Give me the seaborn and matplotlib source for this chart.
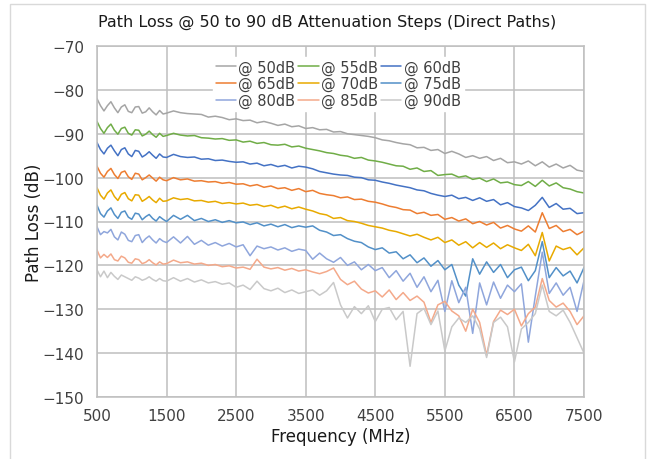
import pandas as pd
import seaborn as sns
import matplotlib.pyplot as plt

# frequenze: passo 50 MHz fino a 1500, poi 100 MHz
freq = list(range(500, 1500, 50)) + list(range(1500, 7600, 100))

loss_50 = [-82.0, -83.6, -84.8, -83.6, -82.7, -84.1, -85.2, -83.9, -83.4, -84.9,
           -85.2, -83.9, -83.8, -85.3, -85.0, -84.1, -85.0, -85.7, -84.7, -85.5,
           -85.3, -84.8, -85.2, -85.4, -85.5, -85.6, -86.2, -86.0, -86.3, -86.8,
           -86.6, -87.0, -86.9, -87.5, -87.2, -87.6, -88.1, -87.8, -88.4, -88.2,
           -88.8, -88.6, -89.1, -89.0, -89.6, -89.5, -90.0, -90.2, -90.4, -90.6,
           -90.9, -91.4, -91.6, -92.0, -92.3, -92.5, -93.2, -93.1, -93.8, -93.6,
           -94.5, -94.0, -94.6, -95.4, -95.0, -95.6, -95.2, -96.1, -95.6, -96.6,
           -96.4, -96.9, -96.2, -97.3, -96.4, -97.6, -96.9, -97.8, -97.2, -98.3,
           -98.6]
loss_55 = [-87.2, -88.8, -89.9, -88.6, -87.8, -89.2, -90.1, -88.8, -88.5, -89.9,
           -90.3, -89.1, -89.2, -90.5, -90.1, -89.4, -90.2, -90.8, -89.9, -90.6,
           -90.4, -89.9, -90.3, -90.5, -90.4, -90.9, -91.0, -91.2, -91.1, -91.5,
           -91.4, -91.9, -91.7, -92.2, -92.0, -92.5, -92.6, -92.4, -93.0, -92.8,
           -93.3, -93.6, -93.9, -94.3, -94.5, -94.9, -95.1, -95.6, -95.4, -96.0,
           -96.2, -96.5, -96.9, -97.3, -97.4, -98.1, -97.8, -98.6, -98.4, -99.5,
           -99.3, -99.2, -99.9, -99.6, -100.4, -100.1, -100.9, -100.3, -101.2, -101.0,
           -101.6, -101.8, -100.9, -102.0, -100.6, -101.9, -101.2, -102.3, -102.6, -103.2,
           -103.5]
loss_60 = [-92.0, -93.6, -94.6, -93.3, -92.6, -93.9, -95.0, -93.6, -93.2, -94.6,
           -95.2, -93.8, -94.0, -95.3, -94.8, -94.1, -94.9, -95.6, -94.6, -95.3,
           -95.4, -94.7, -95.2, -95.4, -95.3, -95.8, -95.7, -96.1, -96.0, -96.3,
           -96.5, -96.4, -96.9, -96.7, -97.3, -97.0, -97.5, -97.2, -97.8, -97.4,
           -97.6, -98.0, -98.6, -98.9, -99.2, -99.4, -99.5, -99.9, -100.0, -100.5,
           -100.6, -101.0, -101.3, -101.7, -102.0, -102.3, -102.8, -103.0, -103.6, -104.0,
           -104.3, -104.0, -104.8, -104.5, -105.2, -104.6, -105.4, -105.0, -106.2, -105.7,
           -106.6, -106.9, -107.5, -106.3, -104.5, -106.8, -105.9, -107.2, -107.0, -108.2,
           -108.0]
loss_65 = [-97.4, -99.0, -99.9, -98.6, -97.9, -99.3, -100.2, -98.8, -98.5, -99.8,
           -100.4, -99.0, -99.2, -100.5, -100.0, -99.4, -100.1, -100.8, -99.9, -100.5,
           -100.7, -100.0, -100.5, -100.3, -100.8, -100.7, -101.0, -100.9, -101.3, -101.1,
           -101.5, -101.4, -101.9, -101.6, -102.2, -101.9, -102.5, -102.3, -102.9, -102.5,
           -103.2, -102.9, -103.6, -103.9, -104.1, -104.6, -104.4, -105.0, -104.9, -105.4,
           -105.6, -106.0, -106.5, -106.8, -107.3, -107.4, -108.2, -107.9, -108.6, -108.4,
           -109.5, -109.1, -109.9, -109.4, -110.5, -110.0, -110.8, -110.2, -111.5, -110.9,
           -111.7, -112.2, -111.0, -112.4, -108.0, -111.6, -110.9, -112.3, -111.8, -113.0,
           -112.2]
loss_70 = [-102.3, -104.0, -104.9, -103.5, -102.8, -104.3, -105.2, -103.8, -103.4, -104.8,
           -105.3, -103.9, -104.0, -105.4, -104.9, -104.3, -105.1, -105.7, -104.7, -105.4,
           -105.3, -104.6, -105.0, -104.8, -105.3, -105.2, -105.6, -105.4, -105.9, -105.7,
           -106.0, -105.8, -106.3, -106.1, -106.6, -106.3, -106.9, -106.5, -107.1, -106.7,
           -107.2, -107.6, -108.2, -108.5, -109.3, -109.1, -109.8, -110.0, -110.4, -110.9,
           -111.2, -111.5, -112.0, -112.3, -112.8, -113.3, -112.9, -113.6, -114.2, -113.6,
           -114.8, -114.2, -115.4, -114.6, -116.0, -114.8, -115.9, -114.9, -116.2, -115.3,
           -116.0, -116.6, -115.2, -117.8, -112.5, -119.0, -115.6, -116.4, -115.9, -117.6,
           -116.0]
loss_75 = [-106.3, -108.2, -109.0, -107.6, -106.9, -108.4, -109.3, -107.9, -107.6, -109.0,
           -109.5, -108.1, -108.3, -109.6, -108.9, -108.4, -109.3, -109.9, -108.9, -109.5,
           -110.0, -108.6, -109.5, -108.6, -109.8, -109.3, -110.0, -109.6, -110.2, -109.8,
           -110.3, -110.1, -110.7, -110.3, -111.0, -110.6, -111.2, -110.7, -111.4, -111.0,
           -111.3, -111.0, -112.0, -112.4, -113.2, -113.0, -113.9, -114.5, -114.8, -115.8,
           -116.4, -116.0, -117.2, -116.9, -118.5, -117.6, -119.4, -118.3, -120.2, -118.9,
           -121.0, -119.8, -124.5, -127.0, -118.5, -122.0, -119.2, -121.6, -119.8, -122.8,
           -121.0, -120.4, -123.5, -121.2, -114.6, -122.8, -120.5, -122.4, -121.3, -124.0,
           -120.5]
loss_80 = [-111.2, -113.0, -112.3, -112.6, -111.8, -113.5, -114.2, -112.4, -112.9, -114.3,
           -114.6, -113.2, -113.0, -114.8, -113.9, -113.3, -114.2, -114.9, -113.9, -114.5,
           -114.8, -113.5, -114.9, -113.4, -115.2, -114.3, -115.4, -114.8, -115.6, -115.0,
           -115.8, -115.3, -117.8, -115.6, -116.2, -115.8, -116.5, -116.0, -116.8, -116.3,
           -116.6, -118.6, -117.2, -118.5, -119.3, -118.2, -120.0, -119.2, -121.0, -119.8,
           -121.2, -120.5, -122.8, -121.2, -123.6, -121.8, -125.0, -122.6, -126.0, -123.4,
           -130.5, -123.5, -128.5, -125.0, -135.5, -124.0, -129.0, -123.8, -127.5, -124.5,
           -126.0, -124.2, -137.5, -127.0, -117.0, -126.4, -124.0, -126.8, -125.0, -130.5,
           -123.5]
loss_85 = [-116.5, -118.3, -117.5, -118.2, -117.4, -118.7, -119.0, -117.9, -118.3, -119.3,
           -119.5, -118.5, -118.7, -119.6, -119.3, -118.7, -119.4, -119.9, -119.2, -119.7,
           -119.6, -118.8, -119.4, -119.2, -119.7, -119.5, -120.0, -119.8, -120.3, -120.1,
           -120.6, -120.4, -120.9, -118.6, -120.4, -120.8, -120.5, -121.1, -120.7, -121.3,
           -121.0, -121.5, -121.9, -121.4, -120.6, -123.2, -124.4, -123.6, -125.4, -126.3,
           -125.8, -127.2, -125.6, -127.8, -126.2, -128.0, -127.0, -128.4, -133.0, -129.0,
           -128.2, -130.4, -131.5, -135.0, -130.0, -133.0, -140.5, -132.8, -130.2, -131.2,
           -130.0, -133.8, -131.0, -129.5, -123.0, -128.0, -129.5, -128.6, -130.5, -133.5,
           -131.5]
loss_90 = [-121.0, -122.6, -121.3, -122.8, -121.6, -122.5, -123.2, -122.2, -122.6, -123.0,
           -123.4, -122.6, -122.9, -123.4, -123.1, -122.6, -123.2, -123.6, -123.0, -123.5,
           -123.6, -122.8, -123.6, -123.0, -123.8, -123.3, -124.0, -123.7, -124.3, -124.0,
           -125.0, -124.5, -125.5, -123.6, -125.3, -125.8, -125.2, -126.2, -125.6, -126.4,
           -126.0, -125.6, -126.8, -125.8, -123.9, -129.0, -132.0, -129.4, -131.0, -129.2,
           -132.8, -130.0, -129.6, -132.4, -130.5, -143.0, -131.0, -129.8, -133.5, -130.4,
           -139.5, -134.0, -132.0, -133.0, -131.5, -134.5, -141.0, -133.0, -131.8, -134.0,
           -142.0, -134.5, -133.0, -131.0, -124.5, -130.5, -131.5, -130.2, -133.0, -136.5,
           -140.0]

labels = ['@ 50dB', '@ 55dB', '@ 60dB', '@ 65dB', '@ 70dB',
          '@ 75dB', '@ 80dB', '@ 85dB', '@ 90dB']
series = [loss_50, loss_55, loss_60, loss_65, loss_70,
          loss_75, loss_80, loss_85, loss_90]
colors = ['#a5a5a5', '#70ad47', '#4472c4', '#ed7d31', '#e8aa00',
          '#5290c8', '#8fa6dc', '#f4a98a', '#c9c9c9']

# tabella lunga per seaborn
df = pd.concat([pd.DataFrame({'Frequency': freq, 'Loss': s, 'Serie': l})
                for s, l in zip(series, labels)], ignore_index=True)

sns.set_style('white')
plt.rcParams['font.family'] = ['DejaVu Sans']

fig = plt.figure(figsize=(6.52, 4.60), dpi=100)
ax = fig.add_axes([97 / 652, 1 - 398 / 460, 487 / 652, 351 / 460])

sns.lineplot(data=df, x='Frequency', y='Loss', hue='Serie', palette=colors,
             hue_order=labels, linewidth=1.1, estimator=None, sort=False, ax=ax)

ax.set_xlim(500, 7500)
ax.set_ylim(-150, -70)
ax.set_xticks(range(500, 7501, 1000))
ax.set_yticks(range(-150, -69, 10))
ax.grid(True, color='#bfbfbf', linewidth=1.1)
ax.set_axisbelow(True)
for sp in ax.spines.values():
    sp.set_color('#bfbfbf')
    sp.set_linewidth(1.1)
ax.tick_params(axis='y', length=5, width=1.1, color='#bfbfbf', labelsize=11,
               labelcolor='#404040', pad=4)
ax.tick_params(axis='x', length=0, labelsize=11, labelcolor='#404040', pad=8)

ax.set_xlabel('Frequency (MHz)', fontsize=12, color='#1a1a1a', labelpad=3)
ax.set_ylabel('Path Loss (dB)', fontsize=12, color='#1a1a1a')
ax.yaxis.set_label_coords(-0.11, 0.5)
fig.text(0.502, 0.952, 'Path Loss @ 50 to 90 dB Attenuation Steps (Direct Paths)',
         ha='center', va='center', fontsize=11.5, color='#1a1a1a')

# legenda riga per riga
handles, labs = ax.get_legend_handles_labels()
order = [0, 3, 6, 1, 4, 7, 2, 5, 8]
leg = ax.legend([handles[i] for i in order], [labs[i] for i in order],
                ncol=3, loc='upper left', bbox_to_anchor=(0.238, 0.97),
                frameon=True, fancybox=False, edgecolor='white', framealpha=1,
                fontsize=10.5, handlelength=1.4, handletextpad=0.15,
                columnspacing=0.2, labelspacing=0.1, borderpad=0.2,
                borderaxespad=0)
for t in leg.get_texts():
    t.set_color('#404040')

fig.patches.append(plt.Rectangle((10 / 652, -0.01), 635 / 652, 1 - 5 / 460 + 0.01,
                                 transform=fig.transFigure, fill=False,
                                 edgecolor='#d9d9d9', linewidth=1))

plt.savefig('out.png', dpi=100)
